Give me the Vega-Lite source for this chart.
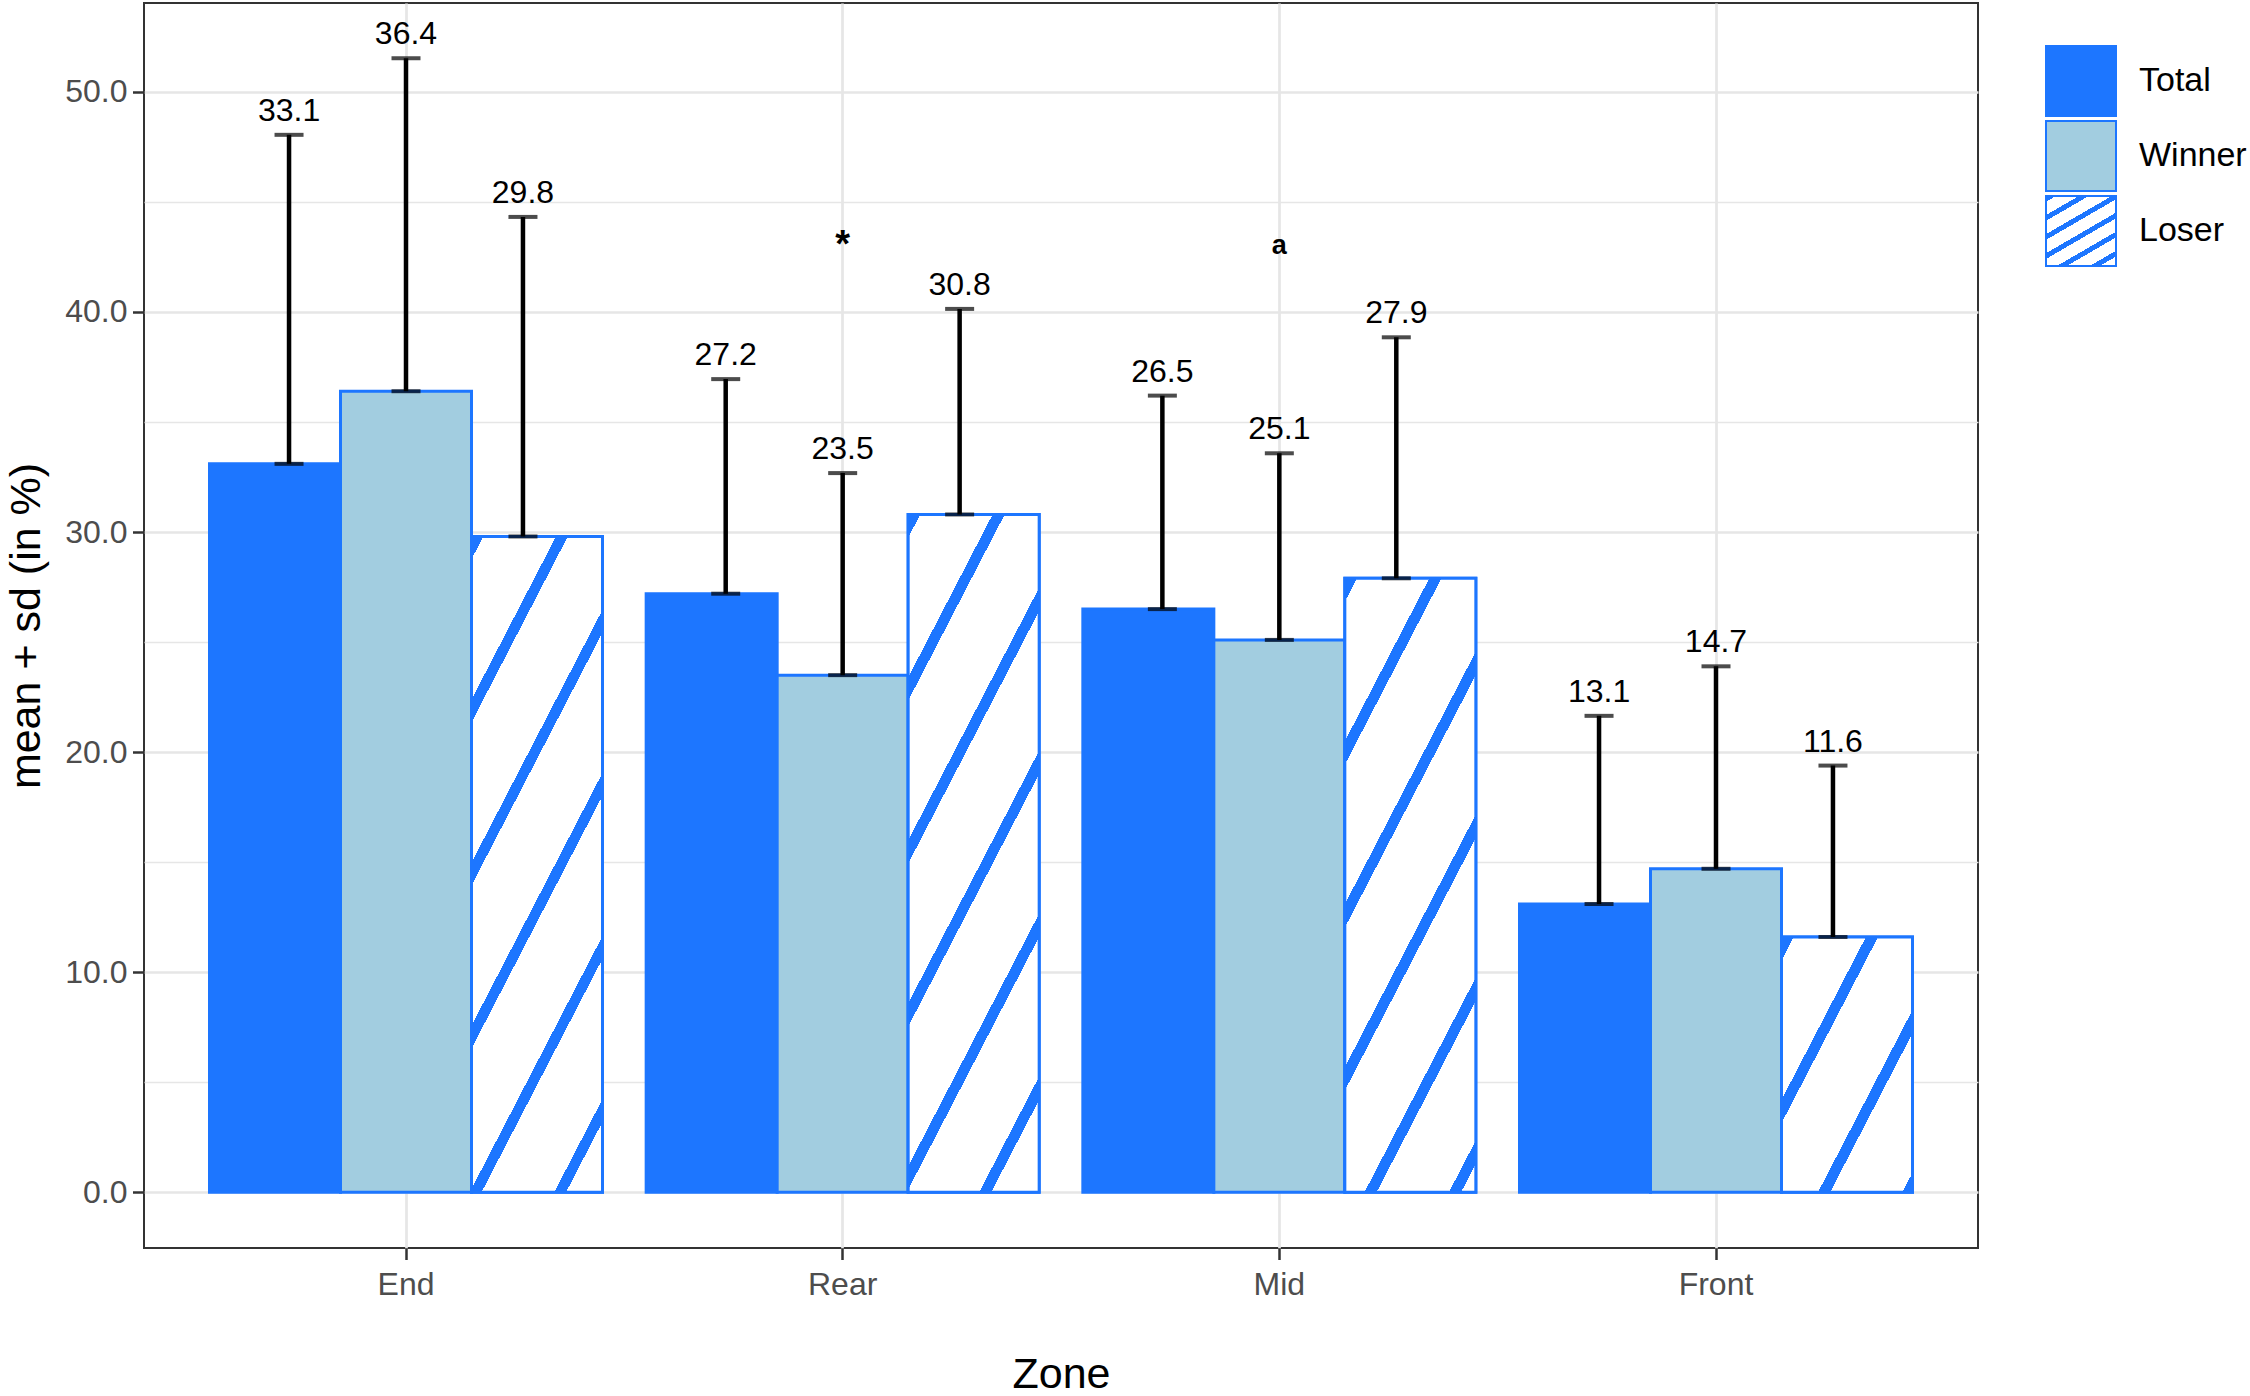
{
  "$schema": "https://vega.github.io/schema/vega-lite/v6.json",
  "autosize": {"type": "none"},
  "padding": {"left": 144, "top": 3, "right": 272, "bottom": 148},
  "width": 1834,
  "height": 1245,
  "datasets": {
    "bars": [
      {"zone": "End", "group": "Total", "mean": 33.1, "upper": 48.05},
      {"zone": "End", "group": "Winner", "mean": 36.4, "upper": 51.53},
      {"zone": "End", "group": "Loser", "mean": 29.8, "upper": 44.32},
      {"zone": "Rear", "group": "Total", "mean": 27.2, "upper": 36.95},
      {"zone": "Rear", "group": "Winner", "mean": 23.5, "upper": 32.68},
      {"zone": "Rear", "group": "Loser", "mean": 30.8, "upper": 40.14},
      {"zone": "Mid", "group": "Total", "mean": 26.5, "upper": 36.2},
      {"zone": "Mid", "group": "Winner", "mean": 25.1, "upper": 33.58},
      {"zone": "Mid", "group": "Loser", "mean": 27.9, "upper": 38.85},
      {"zone": "Front", "group": "Total", "mean": 13.1, "upper": 21.65},
      {"zone": "Front", "group": "Winner", "mean": 14.7, "upper": 23.9},
      {"zone": "Front", "group": "Loser", "mean": 11.6, "upper": 19.39}
    ],
    "notes": [
      {"zone": "Rear", "y": 43, "label": "*"},
      {"zone": "Mid", "y": 43, "label": "a"}
    ]
  },
  "data": {"name": "bars"},
  "encoding": {
    "x": {
      "field": "zone",
      "type": "nominal",
      "sort": ["End", "Rear", "Mid", "Front"],
      "scale": {"type": "band", "paddingInner": 0.1, "paddingOuter": 0.15},
      "title": "Zone",
      "axis": {"labelAngle": 0, "bandPosition": 0.5, "titlePadding": 53}
    },
    "xOffset": {
      "field": "group",
      "type": "nominal",
      "scale": {"type": "band", "domain": ["Total", "Winner", "Loser"], "paddingInner": 0, "paddingOuter": 0}
    },
    "y": {
      "field": "mean",
      "type": "quantitative",
      "scale": {"domain": [-2.53, 54.04], "nice": false, "zero": false},
      "title": "mean + sd (in %)",
      "axis": {
        "values": [0, 5, 10, 15, 20, 25, 30, 35, 40, 45, 50],
        "labelExpr": "datum.value % 10 === 0 ? format(datum.value, '.1f') : ''",
        "gridWidth": {"condition": {"test": "datum.value % 10 !== 0", "value": 1.5}, "value": 2.7},
        "tickOpacity": {"condition": {"test": "datum.value % 10 !== 0", "value": 0}, "value": 1},
        "titlePadding": 16
      }
    }
  },
  "layer": [
    {
      "mark": {"type": "bar", "stroke": "#1d76ff", "strokeWidth": 3},
      "encoding": {
        "color": {
          "field": "group",
          "type": "nominal",
          "scale": {
            "domain": ["Total", "Winner", "Loser"],
            "range": [
              "#1d76ff",
              "#a2cde0",
              {"expr": "{gradient: 'linear', x1: 0, y1: 0, x2: 0.686, y2: 1.182, stops: [{offset: 0, color: '#1d76ff'}, {offset: 0.052, color: '#1d76ff'}, {offset: 0.052, color: '#ffffff'}, {offset: 0.1724, color: '#ffffff'}, {offset: 0.1724, color: '#1d76ff'}, {offset: 0.2244, color: '#1d76ff'}, {offset: 0.2244, color: '#ffffff'}, {offset: 0.3448, color: '#ffffff'}, {offset: 0.3448, color: '#1d76ff'}, {offset: 0.3968, color: '#1d76ff'}, {offset: 0.3968, color: '#ffffff'}, {offset: 0.5172, color: '#ffffff'}, {offset: 0.5172, color: '#1d76ff'}, {offset: 0.5692, color: '#1d76ff'}, {offset: 0.5692, color: '#ffffff'}, {offset: 0.6896, color: '#ffffff'}, {offset: 0.6896, color: '#1d76ff'}, {offset: 0.7416, color: '#1d76ff'}, {offset: 0.7416, color: '#ffffff'}, {offset: 0.862, color: '#ffffff'}, {offset: 0.862, color: '#1d76ff'}, {offset: 0.914, color: '#1d76ff'}, {offset: 0.914, color: '#ffffff'}, {offset: 1, color: '#ffffff'}]}"}
            ]
          },
          "legend": {
            "title": null,
            "orient": "none",
            "legendX": 1901,
            "legendY": 42,
            "padding": 0,
            "symbolType": "square",
            "symbolSize": 4900,
            "symbolStrokeWidth": 2,
            "symbolStrokeColor": "#1d76ff",
            "rowPadding": -3,
            "labelOffset": 22,
            "labelFontSize": 34,
            "labelColor": "black",
            "encode": {
              "symbols": {
                "update": {
                  "stroke": {"value": "#1d76ff"},
                  "strokeWidth": {"value": 2}
                }
              }
            }
          }
        }
      }
    },
    {
      "transform": [{"filter": "datum.group === 'Loser' && datum.zone === 'End'"}],
      "mark": {
        "type": "bar", "stroke": "#1d76ff", "strokeWidth": 3,
        "fill": {"gradient": "linear", "x1": 0, "y1": 0, "x2": 0.465, "y2": 1.206, "stops": [
          {"offset": 0, "color": "#1d76ff"}, {"offset": 0.0251, "color": "#1d76ff"}, {"offset": 0.0251, "color": "#ffffff"}, {"offset": 0.1795, "color": "#ffffff"},
          {"offset": 0.1795, "color": "#1d76ff"}, {"offset": 0.2046, "color": "#1d76ff"}, {"offset": 0.2046, "color": "#ffffff"}, {"offset": 0.359, "color": "#ffffff"},
          {"offset": 0.359, "color": "#1d76ff"}, {"offset": 0.3841, "color": "#1d76ff"}, {"offset": 0.3841, "color": "#ffffff"}, {"offset": 0.5385, "color": "#ffffff"},
          {"offset": 0.5385, "color": "#1d76ff"}, {"offset": 0.5636, "color": "#1d76ff"}, {"offset": 0.5636, "color": "#ffffff"}, {"offset": 0.718, "color": "#ffffff"},
          {"offset": 0.718, "color": "#1d76ff"}, {"offset": 0.7431, "color": "#1d76ff"}, {"offset": 0.7431, "color": "#ffffff"}, {"offset": 0.8975, "color": "#ffffff"},
          {"offset": 0.8975, "color": "#1d76ff"}, {"offset": 0.9226, "color": "#1d76ff"}, {"offset": 0.9226, "color": "#ffffff"}, {"offset": 1, "color": "#ffffff"}
        ]}
      },
      "encoding": {}
    },
    {
      "transform": [{"filter": "datum.group === 'Loser' && datum.zone === 'Rear'"}],
      "mark": {
        "type": "bar", "stroke": "#1d76ff", "strokeWidth": 3,
        "fill": {"gradient": "linear", "x1": 0, "y1": 0, "x2": 0.4495, "y2": 1.2053, "stops": [
          {"offset": 0, "color": "#1d76ff"}, {"offset": 0.025, "color": "#1d76ff"}, {"offset": 0.025, "color": "#ffffff"}, {"offset": 0.1751, "color": "#ffffff"},
          {"offset": 0.1751, "color": "#1d76ff"}, {"offset": 0.2001, "color": "#1d76ff"}, {"offset": 0.2001, "color": "#ffffff"}, {"offset": 0.3502, "color": "#ffffff"},
          {"offset": 0.3502, "color": "#1d76ff"}, {"offset": 0.3752, "color": "#1d76ff"}, {"offset": 0.3752, "color": "#ffffff"}, {"offset": 0.5253, "color": "#ffffff"},
          {"offset": 0.5253, "color": "#1d76ff"}, {"offset": 0.5503, "color": "#1d76ff"}, {"offset": 0.5503, "color": "#ffffff"}, {"offset": 0.7004, "color": "#ffffff"},
          {"offset": 0.7004, "color": "#1d76ff"}, {"offset": 0.7254, "color": "#1d76ff"}, {"offset": 0.7254, "color": "#ffffff"}, {"offset": 0.8755, "color": "#ffffff"},
          {"offset": 0.8755, "color": "#1d76ff"}, {"offset": 0.9005, "color": "#1d76ff"}, {"offset": 0.9005, "color": "#ffffff"}, {"offset": 1, "color": "#ffffff"}
        ]}
      },
      "encoding": {}
    },
    {
      "transform": [{"filter": "datum.group === 'Loser' && datum.zone === 'Mid'"}],
      "mark": {
        "type": "bar", "stroke": "#1d76ff", "strokeWidth": 3,
        "fill": {"gradient": "linear", "x1": 0, "y1": 0, "x2": 0.4969, "y2": 1.2071, "stops": [
          {"offset": 0, "color": "#1d76ff"}, {"offset": 0.027, "color": "#1d76ff"}, {"offset": 0.027, "color": "#ffffff"}, {"offset": 0.188, "color": "#ffffff"},
          {"offset": 0.188, "color": "#1d76ff"}, {"offset": 0.215, "color": "#1d76ff"}, {"offset": 0.215, "color": "#ffffff"}, {"offset": 0.376, "color": "#ffffff"},
          {"offset": 0.376, "color": "#1d76ff"}, {"offset": 0.403, "color": "#1d76ff"}, {"offset": 0.403, "color": "#ffffff"}, {"offset": 0.564, "color": "#ffffff"},
          {"offset": 0.564, "color": "#1d76ff"}, {"offset": 0.591, "color": "#1d76ff"}, {"offset": 0.591, "color": "#ffffff"}, {"offset": 0.752, "color": "#ffffff"},
          {"offset": 0.752, "color": "#1d76ff"}, {"offset": 0.779, "color": "#1d76ff"}, {"offset": 0.779, "color": "#ffffff"}, {"offset": 0.94, "color": "#ffffff"},
          {"offset": 0.94, "color": "#1d76ff"}, {"offset": 0.967, "color": "#1d76ff"}, {"offset": 0.967, "color": "#ffffff"}, {"offset": 1, "color": "#ffffff"}
        ]}
      },
      "encoding": {}
    },
    {
      "transform": [{"filter": "datum.group === 'Loser' && datum.zone === 'Front'"}],
      "mark": {
        "type": "bar", "stroke": "#1d76ff", "strokeWidth": 3,
        "fill": {"gradient": "linear", "x1": 0, "y1": 0, "x2": 0.9949, "y2": 1.0048, "stops": [
          {"offset": 0, "color": "#1d76ff"}, {"offset": 0.046, "color": "#1d76ff"}, {"offset": 0.046, "color": "#ffffff"}, {"offset": 0.3205, "color": "#ffffff"},
          {"offset": 0.3205, "color": "#1d76ff"}, {"offset": 0.3665, "color": "#1d76ff"}, {"offset": 0.3665, "color": "#ffffff"}, {"offset": 0.641, "color": "#ffffff"},
          {"offset": 0.641, "color": "#1d76ff"}, {"offset": 0.687, "color": "#1d76ff"}, {"offset": 0.687, "color": "#ffffff"}, {"offset": 0.9615, "color": "#ffffff"},
          {"offset": 0.9615, "color": "#1d76ff"}, {"offset": 1, "color": "#1d76ff"}
        ]}
      },
      "encoding": {}
    },
    {
      "mark": {"type": "rule", "color": "black", "strokeWidth": 4.5},
      "encoding": {
        "xOffset": {"field": "group", "type": "nominal", "scale": {"type": "band", "domain": ["Total", "Winner", "Loser"], "paddingInner": 0, "paddingOuter": 0.18}},
        "y2": {"field": "upper"}
      }
    },
    {
      "mark": {"type": "tick", "color": "black", "thickness": 4},
      "encoding": {
        "xOffset": {"field": "group", "type": "nominal", "scale": {"type": "band", "domain": ["Total", "Winner", "Loser"], "paddingInner": 0, "paddingOuter": 0.18}},
        "size": {"value": 29}
      }
    },
    {
      "mark": {"type": "tick", "color": "black", "thickness": 4},
      "encoding": {
        "xOffset": {"field": "group", "type": "nominal", "scale": {"type": "band", "domain": ["Total", "Winner", "Loser"], "paddingInner": 0, "paddingOuter": 0.18}},
        "y": {"field": "upper", "type": "quantitative"},
        "size": {"value": 29}
      }
    },
    {
      "mark": {"type": "text", "fontSize": 32, "color": "black", "baseline": "alphabetic", "dy": -14},
      "encoding": {
        "xOffset": {"field": "group", "type": "nominal", "scale": {"type": "band", "domain": ["Total", "Winner", "Loser"], "paddingInner": 0, "paddingOuter": 0.18}},
        "y": {"field": "upper", "type": "quantitative"},
        "text": {"field": "mean", "type": "quantitative", "format": ".1f"}
      }
    },
    {
      "data": {"name": "notes"},
      "mark": {"type": "text", "fontWeight": "bold", "color": "black", "baseline": "middle"},
      "encoding": {
        "xOffset": null,
        "y": {"field": "y", "type": "quantitative"},
        "text": {"field": "label", "type": "nominal"},
        "size": {"condition": {"test": "datum.label === '*'", "value": 38}, "value": 27}
      }
    }
  ],
  "resolve": {"scale": {"xOffset": "independent"}},
  "config": {
    "font": "Liberation Sans",
    "view": {"stroke": "#333333", "strokeWidth": 2},
    "axis": {
      "domain": false,
      "grid": true,
      "gridColor": "#e6e6e6",
      "gridWidth": 2.7,
      "tickColor": "#333333",
      "tickWidth": 2.5,
      "tickSize": 11.5,
      "labelFontSize": 32,
      "labelColor": "#4d4d4d",
      "labelPadding": 6,
      "titleFontSize": 43,
      "titleFontWeight": "normal",
      "titleColor": "black"
    },
    "axisX": {"labelPadding": 10},
    "axisY": {"labelPadding": 5.5}
  }
}
